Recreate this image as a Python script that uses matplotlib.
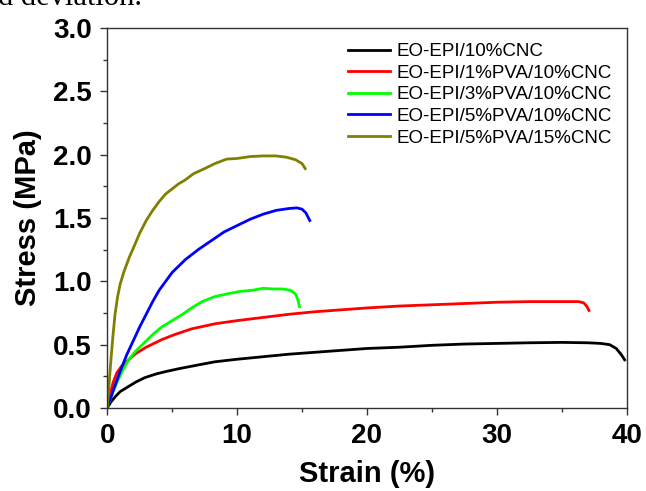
import matplotlib
matplotlib.use('Agg')
import matplotlib.pyplot as plt
from matplotlib.ticker import MultipleLocator, FormatStrFormatter

plt.rcParams['font.family'] = ['Liberation Sans', 'DejaVu Sans']

labels = ['EO-EPI/10%CNC', 'EO-EPI/1%PVA/10%CNC', 'EO-EPI/3%PVA/10%CNC',
          'EO-EPI/5%PVA/10%CNC', 'EO-EPI/5%PVA/15%CNC']
colors = ['black', 'red', '#00ff00', 'blue', '#808000']

# strain (%) / stress (MPa)
black_x = [0, 0.3, 0.62, 1.0, 1.64, 2.2, 2.9, 3.8, 4.6, 5.5, 7, 8.3, 10, 12, 14, 16, 18, 20,
           22.5, 25, 27.5, 30, 32.5, 35, 37, 38, 38.7, 39.2, 39.6, 39.85]
black_y = [0, 0.05, 0.09, 0.13, 0.17, 0.205, 0.24, 0.27, 0.29, 0.31, 0.34, 0.365, 0.385, 0.405,
           0.425, 0.44, 0.455, 0.47, 0.48, 0.495, 0.505, 0.51, 0.515, 0.518, 0.515, 0.51, 0.5,
           0.47, 0.42, 0.38]

red_x = [0, 0.2, 0.45, 0.75, 1.1, 1.64, 2.2, 3.0, 4.2, 5.2, 6.5, 8.3, 10, 12, 14, 16, 18, 20,
         22.5, 25, 27.5, 30, 32.5, 35, 36.3, 36.7, 36.95, 37.1]
red_y = [0, 0.1, 0.2, 0.28, 0.33, 0.38, 0.43, 0.48, 0.54, 0.58, 0.625, 0.665, 0.69, 0.715, 0.74,
         0.76, 0.775, 0.79, 0.805, 0.815, 0.825, 0.835, 0.84, 0.84, 0.84, 0.83, 0.8, 0.77]

green_x = [0, 0.3, 0.7, 1.2, 1.64, 2.2, 2.8, 3.5, 4.2, 5, 5.8, 6.5, 7.3, 8.3, 9.2, 10.2, 11.2,
           12, 12.8, 13.5, 14.1, 14.5, 14.7, 14.8]
green_y = [0, 0.09, 0.19, 0.3, 0.38, 0.45, 0.51, 0.58, 0.64, 0.69, 0.74, 0.79, 0.84, 0.88, 0.9,
           0.92, 0.93, 0.945, 0.94, 0.94, 0.93, 0.9, 0.85, 0.8]

blue_x = [0, 0.5, 1.0, 1.5, 2.0, 2.5, 3.0, 3.5, 4.0, 4.5, 5.0, 6.0, 7.0, 8.0, 9.0, 10, 11, 12,
          13, 14, 14.6, 15.0, 15.3, 15.6]
blue_y = [0, 0.15, 0.29, 0.42, 0.53, 0.64, 0.74, 0.84, 0.93, 1.0, 1.07, 1.17, 1.25, 1.32, 1.39,
          1.44, 1.49, 1.53, 1.56, 1.575, 1.58, 1.57, 1.54, 1.48]

olive_x = [0, 0.15, 0.3, 0.45, 0.6, 0.8, 1.0, 1.3, 1.7, 2.0, 2.5, 3.0, 3.5, 4.0, 4.5, 5.0, 5.5,
           6.0, 6.65, 7.5, 8.3, 9.2, 10, 11, 12, 13, 13.8, 14.5, 15.0, 15.25]
olive_y = [0, 0.2, 0.4, 0.58, 0.74, 0.88, 0.98, 1.08, 1.19, 1.26, 1.38, 1.48, 1.56, 1.63, 1.69,
           1.73, 1.77, 1.8, 1.85, 1.89, 1.93, 1.965, 1.97, 1.985, 1.99, 1.99, 1.98, 1.96, 1.93,
           1.89]

curves = [(black_x, black_y), (red_x, red_y), (green_x, green_y),
          (blue_x, blue_y), (olive_x, olive_y)]

fig = plt.figure(figsize=(6.46, 4.91), dpi=100)
ax = fig.add_axes([0.166, 0.169, 0.804, 0.774])

for (x, y), c, lab in zip(curves, colors, labels):
    ax.plot(x, y, color=c, lw=2.0, label=lab, solid_joinstyle='round')

ax.set_xlim(0, 40)
ax.set_ylim(0, 3.0)
ax.xaxis.set_major_locator(MultipleLocator(10))
ax.xaxis.set_minor_locator(MultipleLocator(5))
ax.yaxis.set_major_locator(MultipleLocator(0.5))
ax.yaxis.set_minor_locator(MultipleLocator(0.25))
ax.yaxis.set_major_formatter(FormatStrFormatter('%.1f'))
ax.tick_params(which='both', direction='out', top=False, right=False, color='#333333')
ax.tick_params(which='major', length=5, width=1, labelsize=20, pad=6)
ax.tick_params(which='minor', length=3, width=1)
for lbl in ax.get_xticklabels() + ax.get_yticklabels():
    lbl.set_fontweight('bold')
for sp in ax.spines.values():
    sp.set_color('#333333')
    sp.set_linewidth(1)

ax.set_xlabel('Strain (%)', fontsize=21, fontweight='bold', labelpad=8)
ax.set_ylabel('Stress (MPa)', fontsize=21, fontweight='bold', labelpad=8)

ax.legend(loc='upper right', frameon=False, fontsize=13.5, handlelength=2.2,
          handletextpad=0.35, labelspacing=0.24, borderaxespad=0.4)

# caption fragment cut off at the top edge
fig.text(-0.003, 0.99, 'd deviation.', fontsize=22, family='Liberation Serif',
         va='baseline', ha='left')

fig.savefig('out.png', dpi=100)
